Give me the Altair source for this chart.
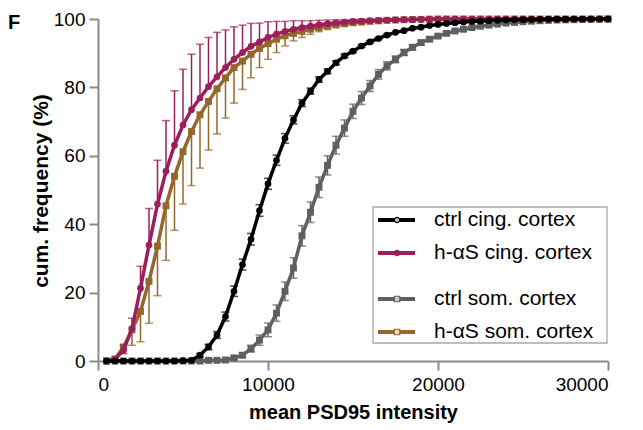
import altair as alt
import pandas as pd

x_bins = [500, 1000, 1500, 2000, 2500, 3000, 3500, 4000, 4500, 5000,
          5500, 6000, 6500, 7000, 7500, 8000, 8500, 9000, 9500, 10000,
          10500, 11000, 11500, 12000, 12500, 13000, 13500, 14000, 14500, 15000,
          15500, 16000, 16500, 17000, 17500, 18000, 18500, 19000, 19500, 20000,
          20500, 21000, 21500, 22000, 22500, 23000, 23500, 24000, 24500, 25000,
          25500, 26000, 26500, 27000, 27500, 28000, 28500, 29000, 29500, 30000]

ctrl_cing = [0, 0, 0, 0, 0, 0, 0, 0, 0, 0.1,
             0.2, 1.7, 4.1, 7.6, 13.0, 20.4, 28.2, 35.6, 44.0, 51.8,
             58.7, 65.1, 70.5, 75.4, 78.9, 82.3, 84.7, 87.2, 89.2, 90.6,
             92.1, 93.3, 94.3, 95.3, 96.1, 96.6, 97.3, 97.6, 98.1, 98.4,
             98.7, 98.9, 99.1, 99.3, 99.4, 99.5, 99.6, 99.7, 99.75, 99.8,
             99.85, 99.9, 99.9, 99.95, 99.95, 100, 100, 100, 100, 100]
ctrl_cing_err = [0, 0, 0, 0, 0, 0, 0, 0, 0, 0,
                 0.1, 0.5, 0.8, 1.0, 1.3, 1.5, 1.6, 1.7, 1.7, 1.6,
                 1.5, 1.4, 1.2, 1.0, 0.9, 0.8, 0.7, 0.6, 0.5, 0.4,
                 0.4, 0.3, 0.3, 0.3, 0.2, 0.2, 0.2, 0.2, 0.2, 0.2,
                 0.1, 0.1, 0.1, 0.1, 0.1, 0.1, 0.1, 0.1, 0.1, 0.1,
                 0.1, 0.1, 0.1, 0.05, 0.05, 0, 0, 0, 0, 0]

has_cing = [0, 0.5, 3.1, 9.5, 21.3, 33.9, 45.9, 55.5, 63.1, 69.0,
            73.5, 76.9, 80.2, 83.1, 85.8, 88.2, 90.2, 92.0, 93.3, 94.6,
            95.6, 96.4, 97.0, 97.5, 97.9, 98.3, 98.6, 98.9, 99.1, 99.3,
            99.4, 99.5, 99.6, 99.7, 99.75, 99.8, 99.85, 99.9, 99.95, 100,
            100, 100, 100, 100, 100, 100, 100, 100, 100, 100,
            100, 100, 100, 100, 100, 100, 100, 100, 100, 100]
has_cing_err = [0, 0.5, 1.5, 3.0, 6.4, 10.7, 12.8, 14.8, 15.9, 16.3,
                16.2, 15.7, 14.4, 13.0, 11.0, 9.5, 8.0, 6.7, 5.5, 4.6,
                3.7, 2.9, 2.5, 2.0, 1.6, 1.3, 1.1, 0.9, 0.7, 0.6,
                0.5, 0.4, 0.3, 0.3, 0.2, 0.2, 0.1, 0.1, 0.05, 0,
                0, 0, 0, 0, 0, 0, 0, 0, 0, 0,
                0, 0, 0, 0, 0, 0, 0, 0, 0, 0]

ctrl_som = [0, 0, 0, 0, 0, 0, 0, 0, 0, 0,
            0, 0, 0.2, 0.2, 0.3, 0.9, 1.7, 3.6, 6.1, 9.1,
            14.0, 20.4, 27.2, 36.6, 43.5, 50.8, 57.2, 63.1, 68.1, 73.0,
            76.9, 80.4, 83.8, 86.3, 88.2, 90.2, 91.7, 93.1, 94.1, 95.0,
            95.8, 96.5, 97.0, 97.5, 97.9, 98.2, 98.5, 98.8, 99.0, 99.2,
            99.35, 99.5, 99.6, 99.7, 99.75, 99.8, 99.85, 99.9, 99.95, 100]
ctrl_som_err = [0, 0, 0, 0, 0, 0, 0, 0, 0, 0,
                0, 0, 0, 0, 0, 0.4, 0.7, 1.0, 1.5, 2.0,
                2.4, 2.7, 3.0, 3.0, 3.0, 3.0, 2.8, 2.6, 2.4, 2.1,
                1.9, 1.6, 1.4, 1.2, 1.0, 0.9, 0.8, 0.7, 0.6, 0.5,
                0.5, 0.4, 0.4, 0.3, 0.3, 0.3, 0.2, 0.2, 0.2, 0.2,
                0.1, 0.1, 0.1, 0.1, 0.1, 0.1, 0.1, 0.05, 0.05, 0]

has_som = [0, 0.6, 4.1, 9.1, 14.5, 23.3, 33.6, 45.4, 54.0, 61.2,
           67.1, 72.0, 75.9, 79.6, 82.8, 85.8, 87.7, 89.7, 91.4, 92.8,
           94.1, 95.1, 95.8, 96.4, 97.0, 97.5, 97.9, 98.3, 98.6, 98.9,
           99.1, 99.3, 99.45, 99.6, 99.7, 99.8, 99.85, 99.9, 99.95, 100,
           100, 100, 100, 100, 100, 100, 100, 100, 100, 100,
           100, 100, 100, 100, 100, 100, 100, 100, 100, 100]
has_som_err = [0, 0.5, 2.0, 4.5, 8.9, 12.3, 14.5, 16.0, 15.8, 15.3,
               15.8, 15.6, 14.2, 13.2, 11.8, 10.4, 8.3, 6.9, 5.6, 4.6,
               3.9, 3.0, 2.2, 1.8, 1.5, 1.2, 1.0, 0.8, 0.6, 0.5,
               0.4, 0.3, 0.3, 0.2, 0.2, 0.1, 0.1, 0.1, 0.05, 0,
               0, 0, 0, 0, 0, 0, 0, 0, 0, 0,
               0, 0, 0, 0, 0, 0, 0, 0, 0, 0]

x_ticks = [0, 10000, 20000, 30000]
y_ticks = [0, 20, 40, 60, 80, 100]

FONT = "Liberation Sans"
AXIS_COL = "#8a8a8a"

# (label, values, errors, colour, shape, error direction, legend fill, legend row y)
series = [
    ("ctrl som. cortex", ctrl_som, ctrl_som_err, "#5e5f61", "square", "both", "#c8c8c8", 280),
    ("h-αS som. cortex", has_som, has_som_err, "#93672b", "square", "down", "#e8d8b8", 313),
    ("h-αS cing. cortex", has_cing, has_cing_err, "#9c1f5c", "circle", "up", "#9c1f5c", 234),
    ("ctrl cing. cortex", ctrl_cing, ctrl_cing_err, "#000000", "circle", "both", "#bbbbbb", 201),
]

xs = alt.Scale(domain=[0, 30000], nice=False, zero=False)
ys = alt.Scale(domain=[0, 100], nice=False)
x_axis = alt.Axis(values=x_ticks, format="d", title="mean PSD95 intensity",
                  titleFontSize=20, titleFontWeight="bold", titlePadding=8,
                  labelPadding=5)
y_axis = alt.Axis(values=y_ticks, title=None, labelPadding=4)

X = alt.X("x:Q", scale=xs, axis=x_axis)

layers = []
for label, vals, errs, col, shape, direction, lfill, ly in series:
    rows = []
    caps = []
    for xv, yv, ev in zip(x_bins, vals, errs):
        lo = yv - ev if direction in ("both", "down") else yv
        hi = yv + ev if direction in ("both", "up") else yv
        rows.append({"x": xv, "y": yv, "lo": lo, "hi": hi, "e": ev})
        if ev > 0.25:
            if direction in ("both", "up"):
                caps.append({"x": xv, "c": hi})
            if direction in ("both", "down"):
                caps.append({"x": xv, "c": lo})
    df = pd.DataFrame(rows)
    dfe = df[df["e"] > 0.25]
    if len(dfe):
        layers.append(alt.Chart(dfe).mark_rule(color=col, strokeWidth=1.5).encode(
            x=X, y=alt.Y("lo:Q", scale=ys, axis=y_axis), y2="hi:Q"))
        layers.append(alt.Chart(pd.DataFrame(caps)).mark_tick(
            color=col, orient="horizontal", size=8, thickness=1.5).encode(
            x=X, y=alt.Y("c:Q", scale=ys, axis=y_axis)))
    layers.append(alt.Chart(df).mark_line(color=col, strokeWidth=3.5).encode(
        x=X, y=alt.Y("y:Q", scale=ys, axis=y_axis)))
    layers.append(alt.Chart(df).mark_point(
        color=col, filled=True, opacity=1, shape=shape,
        size=45 if shape == "circle" else 48).encode(
        x=X, y=alt.Y("y:Q", scale=ys, axis=y_axis)))

one = pd.DataFrame({"a": [0]})

# legend box
layers.append(alt.Chart(one).mark_rect(fill="white", stroke="#a8a8a8", strokeWidth=1.3).encode(
    x=alt.value(275), x2=alt.value(509), y=alt.value(188), y2=alt.value(324)))
for label, vals, errs, col, shape, direction, lfill, ly in series:
    layers.append(alt.Chart(one).mark_rule(color=col, strokeWidth=4).encode(
        x=alt.value(280), x2=alt.value(317), y=alt.value(ly)))
    layers.append(alt.Chart(one).mark_point(
        shape=shape, fill=lfill, stroke=col, strokeWidth=1.2, opacity=1,
        size=28 if shape == "circle" else 30).encode(
        x=alt.value(299), y=alt.value(ly)))
    layers.append(alt.Chart(one).mark_text(
        text=label, align="left", baseline="middle", font=FONT, fontSize=21,
        color="#000000").encode(x=alt.value(336), y=alt.value(ly)))

# y-axis title and panel letter
layers.append(alt.Chart(one).mark_text(
    text="cum. frequency (%)", angle=270, align="center", baseline="alphabetic",
    font=FONT, fontSize=21, fontWeight="bold", color="#000000").encode(
    x=alt.value(-50), y=alt.value(172)))
layers.append(alt.Chart(one).mark_text(
    text="F", align="left", baseline="alphabetic",
    font=FONT, fontSize=20, fontWeight="bold", color="#000000").encode(
    x=alt.value(-90), y=alt.value(10)))

chart = alt.layer(*layers).properties(
    width=510, height=342,
    autosize=alt.AutoSizeParams(type="none"),
    padding={"left": 98, "top": 19, "right": 35, "bottom": 69},
).configure_view(stroke=None).configure_axis(
    grid=False, labelFont=FONT, titleFont=FONT, labelFontSize=19,
    labelColor="#000000", titleColor="#000000",
    domainColor=AXIS_COL, tickColor=AXIS_COL, domainWidth=2, tickWidth=2, tickSize=9,
)

chart.save("out.html", embed_options={"renderer": "svg", "actions": False})
